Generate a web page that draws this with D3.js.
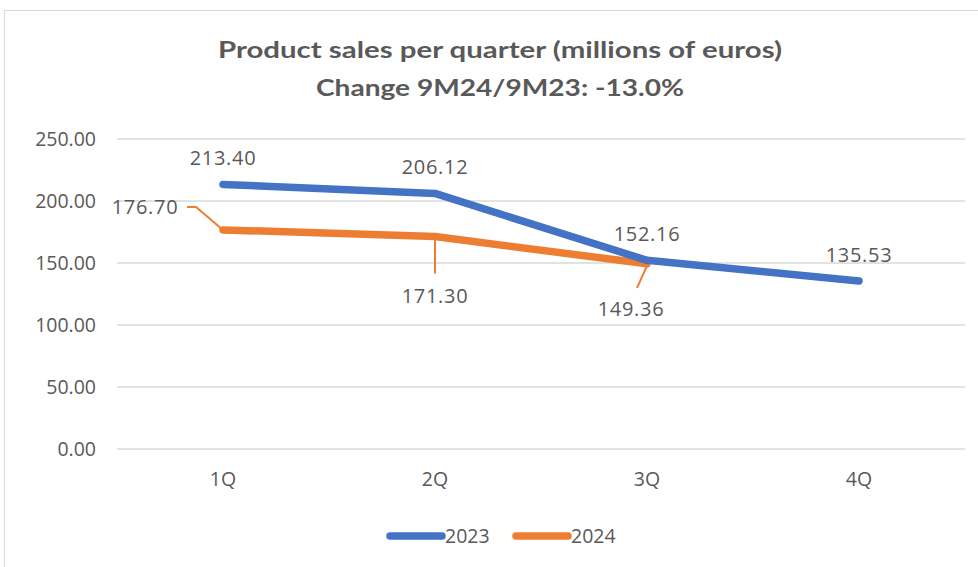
<!DOCTYPE html>
<html>
<head>
<meta charset="utf-8">
<script src="https://cdn.jsdelivr.net/npm/d3@7"></script>
<style>
  body { margin: 0; background: #fff; }
  text { font-family: "Open Sans", "Noto Sans", sans-serif; fill: #595959; }
</style>
</head>
<body>
<script>
// chart data
var quarters = ["1Q", "2Q", "3Q", "4Q"];
var sales2023 = [213.40, 206.12, 152.16, 135.53];
var sales2024 = [176.70, 171.30, 149.36];
var yTicks = [0, 50, 100, 150, 200, 250];
var seriesNames = ["2023", "2024"];

var width = 978,
    height = 567;

var svg = d3.select("body")
    .append("svg")
    .attr("width", width)
    .attr("height", height);

// chart frame
svg.append("rect")
    .attr("x", 4.5).attr("y", 10.5)
    .attr("width", 990).attr("height", 600)
    .attr("fill", "#fff")
    .attr("stroke", "#d9d9d9");

// title
var title = svg.append("text")
    .attr("text-anchor", "middle")
    .style("font-family", "Lato, 'Open Sans', sans-serif")
    .style("font-weight", "bold")
    .style("font-size", "23px");
title.append("tspan").attr("x", 500).attr("y", 58)
    .attr("textLength", 564).attr("lengthAdjust", "spacingAndGlyphs")
    .text("Product sales per quarter (millions of euros)");
title.append("tspan").attr("x", 500).attr("y", 96)
    .attr("textLength", 368).attr("lengthAdjust", "spacingAndGlyphs")
    .text("Change 9M24/9M23: -13.0%");

var x = d3.scaleBand()
    .domain(quarters)
    .range([117, 965]);

var y = d3.scaleLinear()
    .domain([0, 250])
    .range([449, 139]);

function cx(i){ return x(quarters[i]) + x.bandwidth() / 2; }

// gridlines
svg.selectAll(".grid")
    .data(yTicks)
    .enter()
    .append("line")
    .attr("class", "grid")
    .attr("x1", 117).attr("x2", 965)
    .attr("y1", function(d){ return y(d); })
    .attr("y2", function(d){ return y(d); })
    .attr("stroke", "#d9d9d9")
    .attr("stroke-width", 1.5);

// y axis labels
svg.selectAll(".ytick")
    .data(yTicks)
    .enter()
    .append("text")
    .attr("class", "ytick")
    .attr("x", 96)
    .attr("y", function(d){ return y(d) + 7; })
    .attr("text-anchor", "end")
    .style("font-size", "19.5px")
    .text(function(d){ return d3.format(".2f")(d); });

// x axis labels
svg.selectAll(".xtick")
    .data(quarters)
    .enter()
    .append("text")
    .attr("class", "xtick")
    .attr("x", function(d, i){ return cx(i); })
    .attr("y", 486)
    .attr("text-anchor", "middle")
    .style("font-size", "19.5px")
    .text(function(d){ return d; });

var line = d3.line()
    .x(function(d, i){ return cx(i); })
    .y(function(d){ return y(d); });

svg.append("path")
    .datum(sales2024)
    .attr("d", line)
    .attr("fill", "none")
    .attr("stroke", "#ED7D31")
    .attr("stroke-width", 7.5)
    .attr("stroke-linecap", "round")
    .attr("stroke-linejoin", "round");

svg.append("path")
    .datum(sales2023)
    .attr("d", line)
    .attr("fill", "none")
    .attr("stroke", "#4472C4")
    .attr("stroke-width", 7.5)
    .attr("stroke-linecap", "round")
    .attr("stroke-linejoin", "round");

var fmt = d3.format(".2f");

// 2023 labels above points
svg.selectAll(".lab23")
    .data(sales2023)
    .enter()
    .append("text")
    .attr("class", "lab23")
    .attr("x", function(d, i){ return cx(i); })
    .attr("y", function(d){ return y(d) - 19; })
    .attr("text-anchor", "middle")
    .style("font-size", "20px")
    .style("letter-spacing", "0.7px")
    .text(function(d){ return fmt(d); });

// 2024 labels, moved off the line with leader lines
var offsets = [
    {dx: -78, dy: -16, leader: [[-36, -23], [-27, -23], [0, 0]]},
    {dx: 0, dy: 66, leader: [[0, 2], [0, 37]]},
    {dx: -16, dy: 52, leader: [[0, 2], [-10, 24]]}
];

sales2024.forEach(function(d, i){
    var px = cx(i), py = y(d), o = offsets[i];
    svg.append("path")
        .attr("d", d3.line()(o.leader.map(function(p){ return [px + p[0], py + p[1]]; })))
        .attr("fill", "none")
        .attr("stroke", "#ED7D31")
        .attr("stroke-width", 2);
    svg.append("text")
        .attr("x", px + o.dx)
        .attr("y", py + o.dy)
        .attr("text-anchor", "middle")
        .style("font-size", "20px")
        .style("letter-spacing", "0.7px")
        .text(fmt(d));
});

// legend
var legend = svg.selectAll(".legend")
    .data(seriesNames)
    .enter()
    .append("g")
    .attr("class", "legend")
    .attr("transform", function(d, i){ return "translate(" + (390 + i * 126) + ",536)"; });

legend.append("line")
    .attr("x1", 0).attr("x2", 52)
    .attr("stroke", function(d, i){ return i === 0 ? "#4472C4" : "#ED7D31"; })
    .attr("stroke-width", 7.5)
    .attr("stroke-linecap", "round");

legend.append("text")
    .attr("x", 55)
    .attr("y", 7)
    .style("font-size", "19.5px")
    .text(function(d){ return d; });
</script>
</body>
</html>
